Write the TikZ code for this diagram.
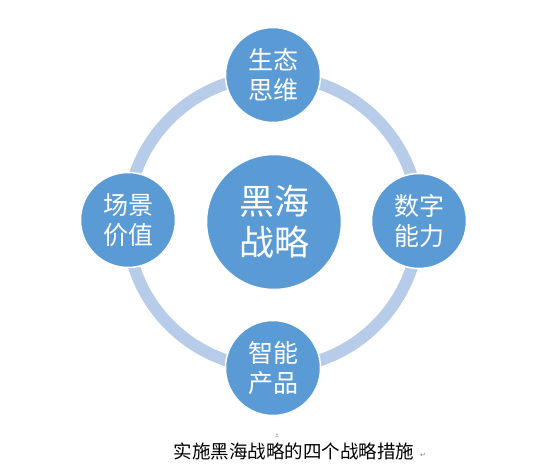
\documentclass[tikz,border=0pt]{standalone}
\usepackage{fontspec}
\newfontfamily\cjk{Noto Sans CJK SC}
\newfontfamily\dejavu{DejaVu Sans}
\definecolor{nodeblue}{RGB}{91,155,213}
\definecolor{ringblue}{RGB}{183,204,232}

\begin{document}
\begin{tikzpicture}[x=1pt,y=-1pt,
    main node/.style={circle,fill=nodeblue,draw=white,line width=1.5pt,inner sep=0pt,
        minimum size=95pt,text=white,align=center,font=\cjk\fontsize{25}{30}\selectfont},
    hub node/.style={main node,minimum size=135pt,font=\cjk\fontsize{35}{41}\selectfont},
    ring/.style={draw=ringblue,line width=12pt}]

\useasboundingbox (0,0) rectangle (559,468);

\draw [ring] (273,222) circle [radius=146];

\node at (274,222) [hub node] (hub) {黑海\\战略};
\node at (273,75) [main node] (sheng) {生态\\思维};
\node at (419,221) [main node] (shu) {数字\\能力};
\node at (273,368) [main node] (zhi) {智能\\产品};
\node at (128,220) [main node] (chang) {场景\\价值};

\node at (294,451) (caption) {\cjk\fontsize{18.5}{20}\selectfont 实施黑海战略的四个战略措施};
\node at (423,455) [text=gray] (mark) {\dejavu\fontsize{7}{7}\selectfont ↵};
\node at (277,436) [text=gray] (anchor) {\dejavu\fontsize{5}{5}\selectfont ⚓};

\end{tikzpicture}
\end{document}
